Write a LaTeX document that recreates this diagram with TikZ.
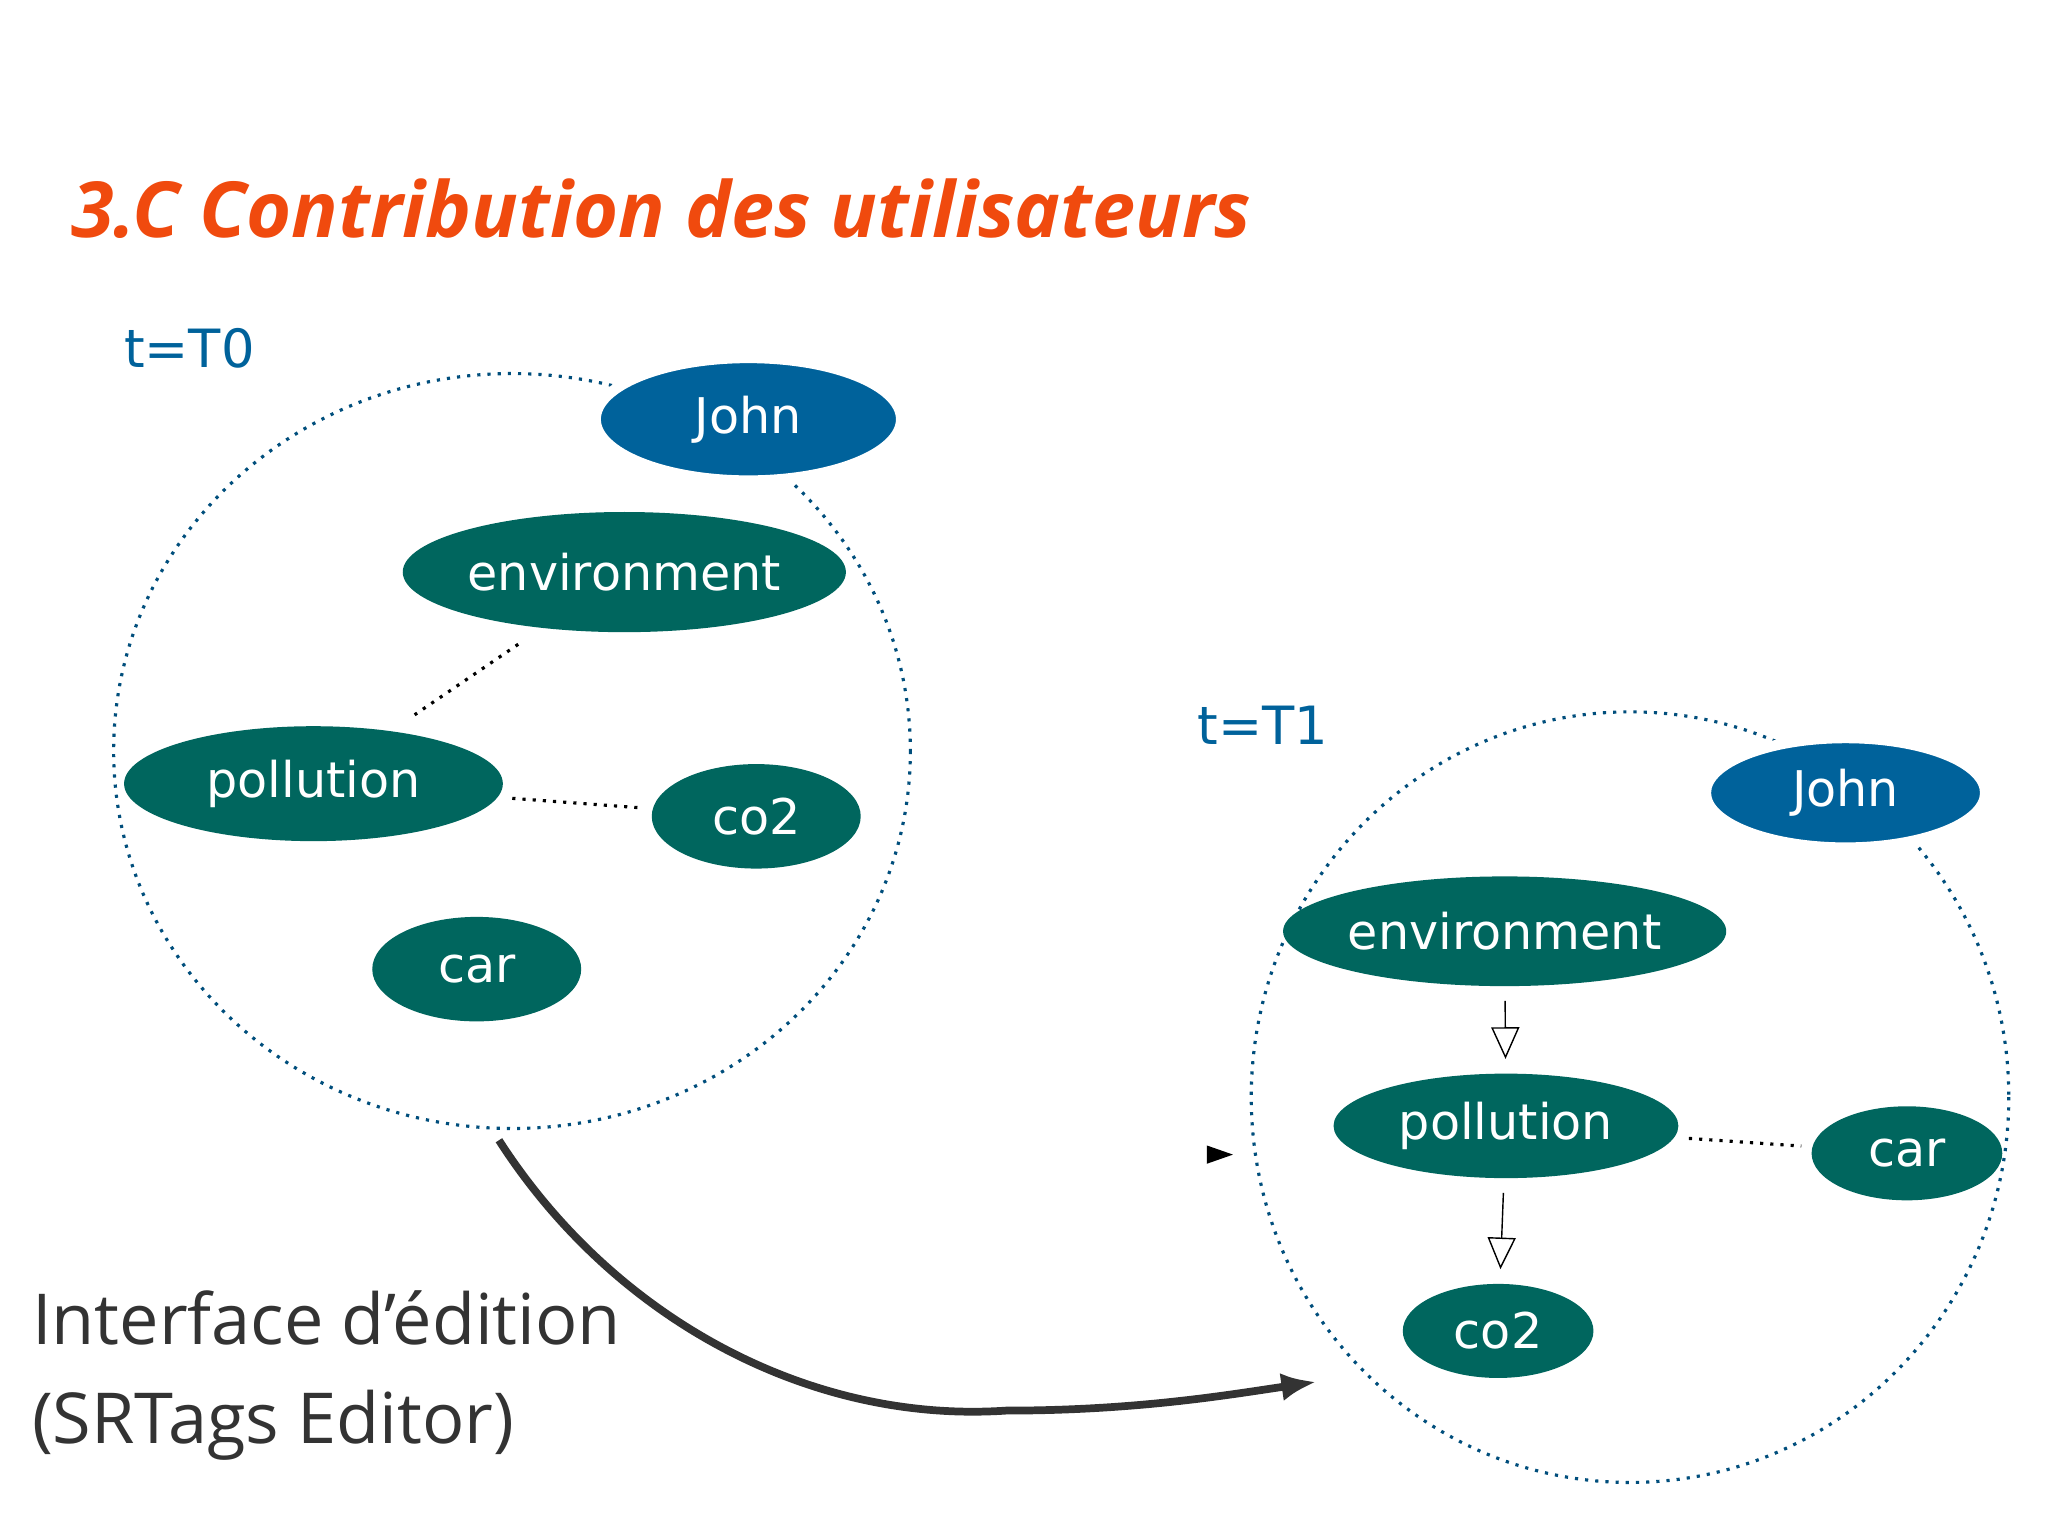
\documentclass[tikz,border=0pt]{standalone}
\usepackage{fontspec}
\setmainfont{DejaVu Sans}
\newfontfamily\osans{Open Sans}
\usetikzlibrary{shapes.geometric,arrows.meta}
\definecolor{teal}{HTML}{00665E}
\definecolor{jblue}{HTML}{00629B}
\definecolor{ttl}{HTML}{F04A0E}
\begin{document}
\begin{tikzpicture}[x=0.01306cm,y=-0.01306cm,
  ell/.style={ellipse,fill=teal,text=white,inner sep=0pt,font=\fontsize{14}{16}\selectfont},
  jn/.style={ell,fill=jblue,draw=white,line width=3pt},
  circ/.style={draw=jblue!80!black,dotted,line width=0.9pt},
  dl/.style={dotted,line width=0.9pt},
  tl/.style={text=jblue,font=\fontsize{15}{18}\selectfont}]
\fill[white] (0,0) rectangle (1568,1175);
\useasboundingbox (0,0) rectangle (1568,1175);
\node[anchor=west,text=ttl,font=\osans\bfseries\itshape\fontsize{22}{26}\selectfont] (title) at (45,160) {3.C Contribution des utilisateurs};
\node[tl] (t0) at (145,267) {t=T0};
\node[tl] (t1) at (967,555) {t=T1};
% left
\draw[circ] (392,575) ellipse [x radius=305,y radius=289];
\node[jn,minimum width={234*0.01306cm},minimum height={94*0.01306cm}] (john0) at (573,321) {John};
\node[ell,minimum width={290*0.01306cm},minimum height={92*0.01306cm}] (env0) at (478,438) {environment};
\node[ell,minimum width={290*0.01306cm},minimum height={88*0.01306cm}] (pol0) at (240,600) {pollution};
\node[ell,minimum width={160*0.01306cm},minimum height={80*0.01306cm}] (co0) at (579,625) {co2};
\node[ell,minimum width={160*0.01306cm},minimum height={80*0.01306cm}] (car0) at (365,742) {car};
\draw[dl,shorten <=8pt,shorten >=8pt] (env0) -- (pol0);
\draw[dl,shorten <=4pt,shorten >=3pt] (pol0) -- (co0);
% right
\draw[circ] (1248,840) ellipse [x radius=290,y radius=295];
\node[jn,minimum width={214*0.01306cm},minimum height={84*0.01306cm}] (john1) at (1413,607) {John};
\node[ell,minimum width={264*0.01306cm},minimum height={84*0.01306cm}] (env1) at (1152,713) {environment};
\node[ell,minimum width={264*0.01306cm},minimum height={80*0.01306cm}] (pol1) at (1153,862) {pollution};
\node[ell,minimum width={146*0.01306cm},minimum height={72*0.01306cm}] (car1) at (1460,883) {car};
\node[ell,minimum width={146*0.01306cm},minimum height={72*0.01306cm}] (co1) at (1147,1019) {co2};
\draw[-{Triangle[open,length=9pt,width=8pt]},shorten <=4pt,shorten >=4pt] (env1) -- (pol1);
\draw[-{Triangle[open,length=9pt,width=8pt]},shorten <=4pt,shorten >=4pt] (pol1) -- (co1);
\draw[dl,shorten <=4pt,shorten >=3pt] (pol1) -- (car1);
\coordinate (tri) at (934,884);
\fill (tri) ++(-10,-7) -- ++(20,7) -- ++(-20,7) -- cycle;
% big arrow
\coordinate (a0) at (382,873);
\coordinate (a1) at (1008,1058);
\draw[line width=2.2pt,draw=black!80,-{Latex[length=10pt,width=8pt]}] (a0) .. controls (470,1010) and (620,1090) .. (770,1080) .. controls (870,1080) and (940,1068) .. (a1);
\node[anchor=west,align=left,text=black!80,font=\osans\fontsize{20}{28}\selectfont] (lbl) at (15,1053) {Interface d’édition\\(SRTags Editor)};
\end{tikzpicture}
\end{document}
